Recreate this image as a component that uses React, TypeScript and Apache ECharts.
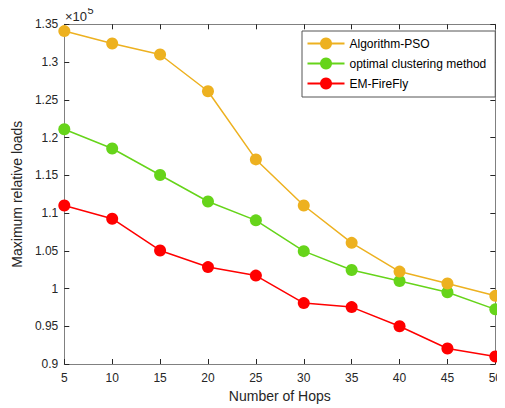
import React, { useEffect, useRef } from "react";
import * as echarts from "echarts";

const hops = [5, 10, 15, 20, 25, 30, 35, 40, 45, 50];
const psoValues = [1.341, 1.3245, 1.310, 1.2613, 1.171, 1.110, 1.0605, 1.0224, 1.0066, 0.9903];
const clusterValues = [1.2109, 1.1855, 1.1504, 1.1153, 1.0903, 1.0495, 1.0245, 1.010, 0.9951, 0.9724];
const fireflyValues = [1.110, 1.0925, 1.0504, 1.0284, 1.0171, 0.9807, 0.9754, 0.950, 0.9205, 0.910];
const seriesNames = ["Algorithm-PSO", "optimal clustering method", "EM-FireFly"];
const seriesColors = ["#EDB120", "#66D41A", "#FF0000"];

const FONT = "Arial, 'Liberation Sans', Helvetica, sans-serif";
const TEXT = "#262626";
const AXIS = "#808080";

export default function App() {
  const ref = useRef<HTMLDivElement>(null);
  useEffect(() => {
    if (!ref.current) return;
    const chart = echarts.init(ref.current, undefined, { renderer: "svg" });
    const allValues = [psoValues, clusterValues, fireflyValues];
    const fmtY = (v: number) => parseFloat(v.toFixed(2)).toString();
    chart.setOption({
      animation: false,
      backgroundColor: "#ffffff",
      textStyle: { fontFamily: FONT },
      grid: { left: 64.3, right: 5.7, top: 24.3, bottom: 41.3, containLabel: false },
      legend: {
        orient: "vertical",
        left: 302,
        top: 31,
        data: seriesNames,
        itemWidth: 37,
        itemHeight: 15,
        itemGap: 8,
        padding: [6.5, 9, 7.5, 4.5],
        borderColor: "#555",
        borderWidth: 1,
        backgroundColor: "#ffffff",
        textStyle: { fontSize: 12, color: "#000", fontFamily: FONT },
      },
      xAxis: [
        {
          type: "value",
          min: 5,
          max: 50,
          interval: 5,
          name: "Number of Hops",
          nameLocation: "middle",
          nameGap: 25,
          nameTextStyle: { fontSize: 14, color: TEXT, fontFamily: FONT },
          axisLine: { show: true, lineStyle: { color: AXIS, width: 1 } },
          axisTick: { show: true, inside: true, length: 5, lineStyle: { color: TEXT } },
          axisLabel: { fontSize: 12, color: TEXT, margin: 8, fontFamily: FONT },
          splitLine: { show: false },
        },
        {
          type: "value",
          position: "top",
          min: 5,
          max: 50,
          interval: 5,
          axisLine: { show: true, lineStyle: { color: AXIS, width: 1 } },
          axisTick: { show: true, inside: true, length: 5, lineStyle: { color: TEXT } },
          axisLabel: { show: false },
          splitLine: { show: false },
        },
      ],
      yAxis: [
        {
          type: "value",
          min: 0.9,
          max: 1.35,
          interval: 0.05,
          name: "Maximum relative loads",
          nameLocation: "middle",
          nameGap: 31,
          nameTextStyle: { fontSize: 14, color: TEXT, fontFamily: FONT },
          axisLine: { show: true, lineStyle: { color: AXIS, width: 1 } },
          axisTick: { show: true, inside: true, length: 5, lineStyle: { color: TEXT } },
          axisLabel: { fontSize: 12, color: TEXT, margin: 6, fontFamily: FONT, formatter: fmtY },
          splitLine: { show: false },
        },
        {
          type: "value",
          position: "right",
          min: 0.9,
          max: 1.35,
          interval: 0.05,
          axisLine: { show: true, lineStyle: { color: AXIS, width: 1 } },
          axisTick: { show: true, inside: true, length: 5, lineStyle: { color: TEXT } },
          axisLabel: { show: false },
          splitLine: { show: false },
        },
      ],
      graphic: [
        {
          type: "text",
          x: 65,
          y: 16,
          style: {
            text: "×10",
            fontSize: 13,
            fill: TEXT,
            fontFamily: FONT,
            verticalAlign: "middle",
            align: "left",
          },
        },
        {
          type: "text",
          x: 87.5,
          y: 10,
          style: {
            text: "5",
            fontSize: 11,
            fill: TEXT,
            fontFamily: FONT,
            verticalAlign: "middle",
            align: "left",
          },
        },
      ],
      series: seriesNames.map((name, i) => ({
        name,
        type: "line",
        xAxisIndex: 0,
        yAxisIndex: 0,
        data: hops.map((h, j) => [h, allValues[i][j]]),
        symbol: "circle",
        symbolSize: 12,
        showSymbol: true,
        color: seriesColors[i],
        lineStyle: { color: seriesColors[i], width: 1.5 },
        itemStyle: { color: seriesColors[i] },
        clip: false,
        z: 3 - i,
      })),
    });
    return () => chart.dispose();
  }, []);
  return <div ref={ref} style={{ width: 505, height: 408, marginLeft: -8, marginTop: -8 }} />;
}
